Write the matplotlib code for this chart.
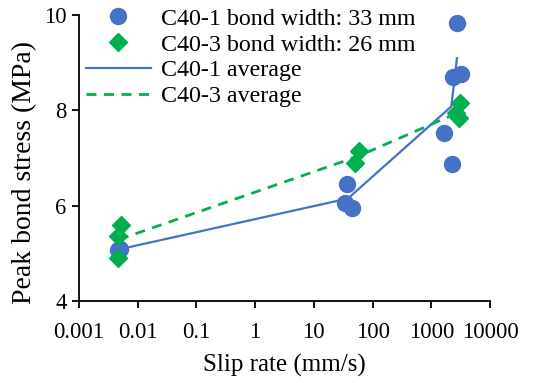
import matplotlib
matplotlib.use("Agg")
import matplotlib.pyplot as plt

# C40-1 bond width 33 mm (individual tests)
c401_rate = [0.0047, 0.0050, 36, 34, 44, 2735, 2333, 3245, 1620, 2243]
c401_stress = [5.07, 5.10, 6.45, 6.05, 5.95, 9.83, 8.70, 8.76, 7.52, 6.87]

# C40-3 bond width 26 mm (individual tests)
c403_rate = [0.0052, 0.0046, 0.0046, 59, 50, 3035, 2594, 2950]
c403_stress = [5.59, 5.37, 4.91, 7.15, 6.90, 8.15, 7.94, 7.83]

# averages
c401_avg_rate = [0.0047, 38, 2190, 2735]
c401_avg_stress = [5.08, 6.15, 8.08, 9.09]
c403_avg_rate = [0.0048, 55, 2850]
c403_avg_stress = [5.29, 7.03, 7.95]

xticks = [0.001, 0.01, 0.1, 1, 10, 100, 1000, 10000]
xticklabels = ["0.001", "0.01", "0.1", "1", "10", "100", "1000", "10000"]
yticks = [4, 6, 8, 10]

blue = "#4472C4"
green = "#00B050"

plt.rcParams['font.family'] = ['Liberation Serif', 'DejaVu Serif']

fig = plt.figure(figsize=(5.34, 3.83), dpi=100)
ax = fig.add_axes([79/534, 1-301/383, (490-79)/534, (301-15)/383])

ax.plot(c401_rate, c401_stress, 'o', color=blue, markersize=11.5, linestyle='none',
        label="C40-1 bond width: 33 mm", zorder=2)
ax.plot(c403_rate, c403_stress, 'D', color=green, markersize=9, linestyle='none',
        label="C40-3 bond width: 26 mm", zorder=3)
ax.plot(c401_avg_rate, c401_avg_stress, '-', color=blue, linewidth=1.6,
        label="C40-1 average", zorder=4)
ax.plot(c403_avg_rate, c403_avg_stress, color=green, linewidth=2, dashes=(3.6, 2.7),
        label="C40-3 average", zorder=4)

ax.set_xscale('log')
ax.set_xlim(0.001, 10000)
ax.set_ylim(4, 10)
ax.set_xticks(xticks)
ax.set_xticklabels(xticklabels)
ax.minorticks_off()
ax.set_yticks(yticks)
ax.tick_params(axis='both', labelsize=16.3, direction='out', length=5, width=1.3, colors='black')
ax.tick_params(axis='x', pad=10)
ax.tick_params(axis='y', pad=4)
for s in ['top', 'right']:
    ax.spines[s].set_visible(False)
for s in ['left', 'bottom']:
    ax.spines[s].set_linewidth(1.3)

ax.set_xlabel("Slip rate (mm/s)", fontsize=18, labelpad=8)
ax.set_ylabel("Peak bond stress (MPa)", fontsize=20, labelpad=5, y=0.451)

leg = ax.legend(loc='upper left', bbox_to_anchor=(0.017, 1.025), frameon=False, fontsize=17.3,
                handlelength=2.7, handletextpad=0.42, labelspacing=0.17, borderaxespad=0.0,
                borderpad=0.0)

fig.savefig("out.png", dpi=100)
